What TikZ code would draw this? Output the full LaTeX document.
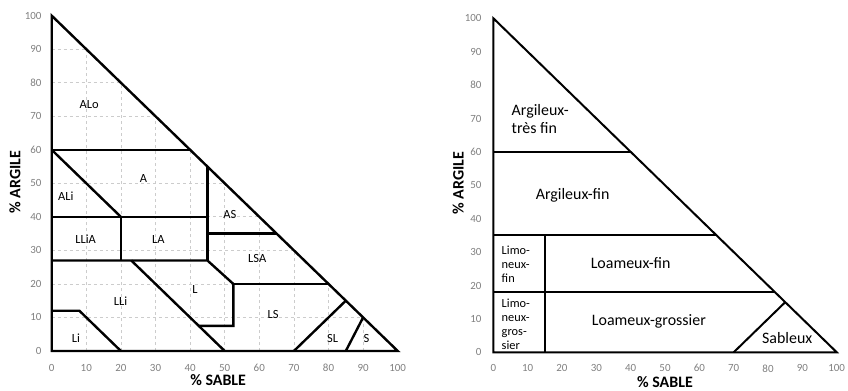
\documentclass[tikz,border=0pt]{standalone}
\usepackage{fontspec}
\setmainfont{Carlito}

\begin{document}
\begin{tikzpicture}[x=1bp,y=1bp]

\tikzstyle{zone} = [line width=2.4bp, line join=miter]
\tikzstyle{zonefine} = [line width=2bp, line join=miter]
\tikzstyle{grille} = [gray!40, dashed, line width=0.8bp]
\tikzstyle{tick} = [text=gray, font=\fontsize{11}{13}\selectfont, inner sep=0pt]
\tikzstyle{classe} = [font=\fontsize{12.5}{14}\selectfont, inner sep=0pt]
\tikzstyle{grande} = [font=\fontsize{16}{18.3}\selectfont, inner sep=0pt]
\tikzstyle{petite} = [font=\fontsize{12.4}{14}\selectfont, align=left, anchor=west, inner sep=0pt]
\tikzstyle{titre} = [font=\bfseries\fontsize{16}{19}\selectfont, inner sep=0pt]

\useasboundingbox (0,0) rectangle (848,390);

% triangle de gauche
\begin{scope}[shift={(51.7,39)}, xscale=3.46, yscale=3.353]
\coordinate (o1) at (0,0);
\coordinate (s1) at (100,0);
\coordinate (a1) at (0,100);

\begin{scope}
\clip (o1) -- (s1) -- (a1) -- cycle;
\foreach \v in {10,20,...,90} {
  \draw[grille] (0,\v) -- (100,\v);
  \draw[grille] (\v,0) -- (\v,100);
}
\end{scope}

\foreach \v in {0,10,...,100} {
  \node[tick, anchor=east] (ya\v) at (-2.9,\v) {\v};
  \node[tick] (xa\v) at (\v,-5) {\v};
}

\draw[zone] (o1) -- (s1) -- (a1) -- cycle;
\draw[zone] (0,60) -- (40,60);
\draw[zone] (0,60) -- (20,40);
\draw[zone] (0,40) -- (45,40);
\draw[zone] (20,40) -- (20,27);
\draw[zone] (45,55) -- (45,27);
\draw[zone] (45,35) -- (65,35);
\draw[zone] (0,27) -- (45,27) -- (52.5,20) -- (52.5,7.5) -- (42.5,7.5);
\draw[zone] (23,27) -- (50,0);
\draw[zone] (52.5,20) -- (80,20);
\draw[zone] (0,12) -- (8,12) -- (20,0);
\draw[zone] (70,0) -- (85,15);
\draw[zone] (85,0) -- (90,10);

\node[classe](alo) at (10.8,73.6){ALo};
\node[classe](arg) at (26.5,51.3){A};
\node[classe](ali) at (4.1,46.3){ALi};
\node[classe](as) at (51.5,40.8){AS};
\node[classe](llia) at (9.8,33.3){LLiA};
\node[classe](la) at (30.8,33.3){LA};
\node[classe](lsa) at (59.4,27.5){LSA};
\node[classe](lim) at (41.4,18.3){L};
\node[classe](lli) at (19.9,14.8){LLi};
\node[classe](ls) at (64,11){LS};
\node[classe](li) at (7,3.8){Li};
\node[classe](sl) at (81.2,3.6){SL};
\node[classe](sab) at (91,3.8){S};

\node[titre, rotate=90](argile1) at (-10.6,50.4){\% ARGILE};
\node[titre](sable1) at (48.1,-8.6){\% SABLE};
\end{scope}

% triangle de droite
\begin{scope}[shift={(493.3,37.7)}, xscale=3.434, yscale=3.34]
\coordinate (o2) at (0,0);
\coordinate (s2) at (100,0);
\coordinate (a2) at (0,100);

\foreach \v in {0,10,...,100} {
  \node[tick, anchor=east] (yb\v) at (-3.4,\v) {\v};
  \node[tick] (xb\v) at (\v,-4.8) {\v};
}

\draw[zonefine] (o2) -- (s2) -- (a2) -- cycle;
\draw[zonefine] (0,60) -- (40,60);
\draw[zonefine] (0,35) -- (65,35);
\draw[zonefine] (0,18) -- (82,18);
\draw[zonefine] (15,0) -- (15,35);
\draw[zonefine] (70,0) -- (85,15);

\node[grande, align=left, anchor=west](atf) at (5.3,69.8){Argileux-\\très fin};
\node[grande](af) at (23.1,47.1){Argileux-fin};
\node[petite](lnf) at (2.4,26.4){Limo-\\neux-\\fin};
\node[petite](lng) at (2.4,8.35){Limo-\\neux-\\gros-\\sier};
\node[grande](lof) at (40,26.6){Loameux-fin};
\node[grande](log) at (45.3,9.2){Loameux-grossier};
\node[grande](sbx) at (85.6,4.4){Sableux};

\node[titre, rotate=90](argile2) at (-10.2,50.6){\% ARGILE};
\node[titre](sable2) at (50,-8.9){\% SABLE};
\end{scope}

\end{tikzpicture}
\end{document}
